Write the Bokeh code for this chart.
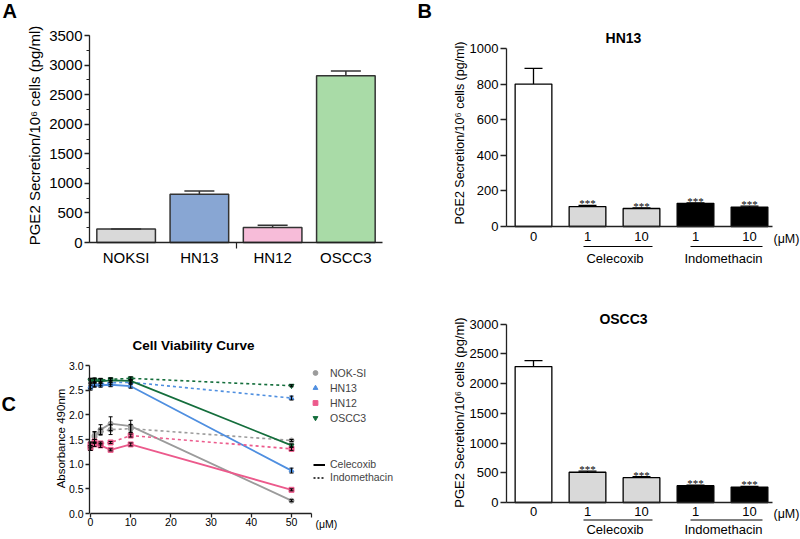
import math
from bokeh.plotting import figure
from bokeh.models import (Range1d, Label, Whisker, TeeHead, ColumnDataSource, FixedTicker,
                          SingleIntervalTicker, NumeralTickFormatter, Arrow, Legend, LegendItem,
                          LabelSet)
from bokeh.layouts import row, column
from bokeh.embed import file_html
from bokeh.resources import INLINE

FONT = "Liberation Sans"
AX = "#222222"

# ---------------- data ----------------
# Panel A
a_cats = ["NOKSI", "HN13", "HN12", "OSCC3"]
a_vals = [228, 815, 255, 2820]
a_errs = [0, 55, 35, 80]
a_colors = ["#d9d9d9", "#88a6d3", "#f7bcd9", "#a9dba7"]

# Panels B and D
conc_labels = ["0", "1", "10", "1", "10"]
drug_groups = ["Celecoxib", "Indomethacin"]
bar_fills = ["white", "#d9d9d9", "#d9d9d9", "black", "black"]
sig = ["", "***", "***", "***", "***"]
hn13_vals = [800, 112, 101, 130, 109]
hn13_errs = [88, 6, 4, 3, 5]
oscc3_vals = [2285, 508, 418, 282, 260]
oscc3_errs = [100, 20, 15, 10, 10]

# Panel C
conc = [0, 1, 2.5, 5, 10, 50]
c_names = ["NOK-SI", "HN13", "HN12", "OSCC3"]
c_colors = ["#9b9b9b", "#4f8fe0", "#ec5a8c", "#146e3c"]
c_markers = ["circle", "triangle", "square", "inverted_triangle"]
cel = [
    [1.33, 1.55, 1.70, 1.82, 1.77, 0.26],
    [2.58, 2.60, 2.60, 2.61, 2.58, 0.87],
    [1.33, 1.40, 1.38, 1.29, 1.40, 0.48],
    [2.69, 2.69, 2.68, 2.70, 2.69, 1.38],
]
cel_err = [
    [0.05, 0.10, 0.10, 0.14, 0.12, 0.02],
    [0.05, 0.04, 0.04, 0.04, 0.04, 0.05],
    [0.05, 0.04, 0.04, 0.02, 0.03, 0.02],
    [0.05, 0.04, 0.05, 0.04, 0.03, 0.03],
]
ind = [
    [1.38, 1.58, 1.65, 1.70, 1.72, 1.48],
    [2.55, 2.62, 2.63, 2.65, 2.66, 2.34],
    [1.40, 1.46, 1.42, 1.44, 1.58, 1.31],
    [2.70, 2.71, 2.70, 2.72, 2.74, 2.59],
]
ind_err = [
    [0.05, 0.08, 0.06, 0.10, 0.08, 0.02],
    [0.05, 0.04, 0.04, 0.04, 0.03, 0.04],
    [0.05, 0.04, 0.03, 0.02, 0.03, 0.03],
    [0.04, 0.04, 0.04, 0.03, 0.03, 0.02],
]
drug_line_labels = ["Celecoxib", "Indomethacin"]
y_label = "PGE2 Secretion/10\u2076 cells (pg/ml)"


# ---------------- helpers ----------------
class Geom:
    """Maps page pixels to data units; the frame covers the whole canvas."""
    def __init__(self, ox, oy, w, h, xa, xb, ya, yb):
        self.ox, self.oy, self.w, self.h = ox, oy, w, h
        self.xa, self.ya = xa, ya
        self.sx = (xb[0] - xa[0]) / (xb[1] - xa[1])
        self.sy = (ya[0] - yb[0]) / (yb[1] - ya[1])
        self.xr = (self.dx(ox), self.dx(ox + w))
        self.yr = (self.dyv(oy + h), self.dyv(oy))

    def dx(self, px):
        return self.xa[1] + (px - self.xa[0]) / self.sx

    def dyv(self, py):
        return self.ya[1] + (self.ya[0] - py) / self.sy

    def ypix(self, pixels):
        return pixels / self.sy


def make_fig(g):
    p = figure(width=g.w, height=g.h, x_range=Range1d(*g.xr), y_range=Range1d(*g.yr),
               output_backend="svg", toolbar_location=None, tools="",
               min_border_left=0, min_border_right=0, min_border_top=0, min_border_bottom=0)
    p.xgrid.visible = False
    p.ygrid.visible = False
    p.outline_line_color = None
    p.background_fill_color = "white"
    p.border_fill_color = "white"
    return p


def style_axis(ax, size, tick_out, standoff):
    ax.axis_line_color = AX
    ax.axis_line_width = 1.3
    ax.major_tick_line_color = AX
    ax.major_tick_line_width = 1.3
    ax.major_tick_in = 0
    ax.major_tick_out = tick_out
    ax.minor_tick_line_color = AX
    ax.minor_tick_line_width = 1.2
    ax.minor_tick_in = 0
    ax.minor_tick_out = 0
    ax.major_label_text_font = FONT
    ax.major_label_text_font_size = f"{size}px"
    ax.major_label_text_color = "black"
    ax.major_label_standoff = standoff


def add_text(p, g, px, py, text, size, bold=False, align="center", baseline="middle", angle=0):
    p.add_layout(Label(x=g.dx(px), y=g.dyv(py), text=text, text_font=FONT,
                       text_font_size=f"{size}px",
                       text_font_style="bold" if bold else "normal", text_color="black",
                       text_align=align, text_baseline=baseline,
                       angle=angle, angle_units="deg"))


def add_hline(p, g, px0, px1, py):
    p.add_layout(Arrow(end=None, x_start=g.dx(px0), y_start=g.dyv(py), x_end=g.dx(px1),
                       y_end=g.dyv(py), line_color="black", line_width=1))


# ---------------- Panel A ----------------
gA = Geom(0, 0, 400, 300, (89, -0.5), (382, 3.5), (242, 0), (35, 3500))
pA = make_fig(gA)
a_x = list(range(len(a_cats)))
srcA = ColumnDataSource(dict(x=a_x, top=a_vals, up=[v + e for v, e in zip(a_vals, a_errs)],
                             color=a_colors))
pA.vbar(x="x", top="top", width=0.8, source=srcA, fill_color="color",
        line_color="#333333", line_width=1.5)
pA.add_layout(Whisker(source=srcA, base="x", lower="top", upper="up", dimension="height",
                      lower_head=None,
                      upper_head=TeeHead(size=30, line_color="#333333", line_width=1.5),
                      line_color="#333333", line_width=1.5, level="glyph"))
xa = pA.xaxis[0]
style_axis(xa, 15, 0, 0)
xa.fixed_location = 0
xa.bounds = (-0.5, 3.5)
xa.ticker = FixedTicker(ticks=a_x, minor_ticks=[1.5])
xa.major_label_overrides = {i: c for i, c in enumerate(a_cats)}
xa.minor_tick_out = 6
ya = pA.yaxis[0]
style_axis(ya, 15, 5, 2)
ya.fixed_location = -0.5
ya.bounds = (0, 3500)
ya.ticker = SingleIntervalTicker(interval=500, num_minor_ticks=2)
ya.minor_tick_out = 3
add_text(pA, gA, 33.5, 135, y_label, 15, angle=90)
add_text(pA, gA, 2, 10, "A", 20, bold=True, align="left")


# ---------------- Panels B / D ----------------
def drug_panel(g, vals, errs, title, title_py, tick_std, line_py, group_py, mu_px, mu_py,
               label_px, label_py, label_size, y_interval, y_max):
    p = make_fig(g)
    xs = list(range(len(vals)))
    src = ColumnDataSource(dict(x=xs, top=vals, up=[v + e for v, e in zip(vals, errs)],
                                fill=bar_fills))
    p.vbar(x="x", top="top", width=0.68, source=src, fill_color="fill",
           line_color="black", line_width=1.3)
    p.add_layout(Whisker(source=src, base="x", lower="top", upper="up", dimension="height",
                         lower_head=None,
                         upper_head=TeeHead(size=18, line_color="black", line_width=1.3),
                         line_color="black", line_width=1.3, level="glyph"))
    sig_src = ColumnDataSource(dict(x=xs, y=[v + e - g.ypix(2) for v, e in zip(vals, errs)],
                                    t=sig))
    p.add_layout(LabelSet(x="x", y="y", text="t", source=sig_src, text_font=FONT,
                          text_font_size="11px", text_align="center",
                          text_baseline="alphabetic", text_color="black"))
    ax = p.xaxis[0]
    style_axis(ax, 13, 0, tick_std)
    ax.fixed_location = 0
    ax.bounds = (-0.5, 4.43)
    ax.ticker = FixedTicker(ticks=xs)
    ax.major_label_overrides = {i: c for i, c in enumerate(conc_labels)}
    ay = p.yaxis[0]
    style_axis(ay, 13, 6, 2)
    ay.fixed_location = -0.5
    ay.bounds = (0, y_max)
    ay.ticker = SingleIntervalTicker(interval=y_interval)
    add_text(p, g, label_px, label_py, y_label, label_size, angle=90)
    add_text(p, g, 623, title_py, title, 14, bold=True)
    add_text(p, g, mu_px, mu_py, "(\u03bcM)", 12.5, align="left")
    spans = [(583, 652), (690, 762)]
    for (x0, x1), name in zip(spans, drug_groups):
        add_hline(p, g, x0, x1, line_py)
        add_text(p, g, (x0 + x1) / 2 - 3, group_py, name, 13)
    return p


gB = Geom(400, 0, 400, 290, (533, 0), (749, 4), (226, 0), (48, 1000))
pB = drug_panel(gB, hn13_vals, hn13_errs, "HN13", 37, 5, 246, 258, 773, 238,
                459.5, 132.5, 12.5, 200, 1000)
add_text(pB, gB, 417, 10, "B", 20, bold=True, align="left")

gD = Geom(400, 290, 400, 249, (533, 0), (749, 4), (502, 0), (323.5, 3000))
pD = drug_panel(gD, oscc3_vals, oscc3_errs, "OSCC3", 318, 4, 519.5, 529, 773, 513,
                458.5, 412, 13, 500, 3000)

# ---------------- Panel C ----------------
gC = Geom(0, 300, 400, 239, (90, 0), (291, 50), (513, 0), (365, 3.0))
pC = make_fig(gC)
marker_items = []
for i, name in enumerate(c_names):
    col = c_colors[i]
    pC.line(conc, cel[i], line_color=col, line_width=1.8)
    pC.line(conc, ind[i], line_color=col, line_width=1.6, line_dash="3 3")
    for vals, errs in ((cel[i], cel_err[i]), (ind[i], ind_err[i])):
        s = ColumnDataSource(dict(x=conc, lo=[v - e for v, e in zip(vals, errs)],
                                  hi=[v + e for v, e in zip(vals, errs)]))
        pC.add_layout(Whisker(source=s, base="x", lower="lo", upper="hi", dimension="height",
                              lower_head=TeeHead(size=4, line_color="black", line_width=1),
                              upper_head=TeeHead(size=4, line_color="black", line_width=1),
                              line_color="black", line_width=1, level="glyph"))
    r = pC.scatter(conc, cel[i], marker=c_markers[i], size=5, fill_color=col, line_color=col)
    pC.scatter(conc, ind[i], marker=c_markers[i], size=5, fill_color=col, line_color=col)
    marker_items.append(LegendItem(label=name, renderers=[r]))

# hidden black key lines (one per drug) used only as legend swatches
r_solid = pC.line(conc, cel[3], line_color="black", line_width=2, visible=False)
r_dot = pC.line(conc, ind[3], line_color="black", line_width=1.5, line_dash="2 2",
                visible=False)

leg1 = Legend(items=marker_items, location=(309, 115), padding=0, margin=0, spacing=2,
              label_height=13, glyph_height=13, glyph_width=12, label_standoff=9,
              label_text_font=FONT, label_text_font_size="10.5px", border_line_color=None,
              background_fill_alpha=0)
leg2 = Legend(items=[LegendItem(label=drug_line_labels[0], renderers=[r_solid]),
                     LegendItem(label=drug_line_labels[1], renderers=[r_dot])],
              location=(313, 56), padding=0, margin=0, spacing=1,
              label_height=11, glyph_height=11, glyph_width=12, label_standoff=5,
              label_text_font=FONT, label_text_font_size="10.5px", border_line_color=None,
              background_fill_alpha=0, inactive_fill_alpha=0)
pC.add_layout(leg1)
pC.add_layout(leg2)

cx = pC.xaxis[0]
style_axis(cx, 10.5, 4, 0)
cx.fixed_location = 0
cx.ticker = FixedTicker(ticks=[0, 10, 20, 30, 40, 50], minor_ticks=[55])
cx.minor_tick_out = 4
cx.bounds = (0, 55)
cy = pC.yaxis[0]
style_axis(cy, 10.5, 4, 2)
cy.fixed_location = gC.dx(89)
cy.bounds = (0, 3.0)
cy.ticker = FixedTicker(ticks=[0, 0.5, 1.0, 1.5, 2.0, 2.5, 3.0])
cy.formatter = NumeralTickFormatter(format="0.0")
add_text(pC, gC, 60, 438, "Absorbance 490nm", 11.5, angle=90)
add_text(pC, gC, 193, 345, "Cell Viability Curve", 13.5, bold=True)
add_text(pC, gC, 315, 523, "(\u03bcM)", 10.5, align="left")
add_text(pC, gC, 1, 403, "C", 20, bold=True, align="left")

layout = row(column(pA, pC), column(pB, pD))
open("out.html", "w").write(file_html(layout, INLINE))
